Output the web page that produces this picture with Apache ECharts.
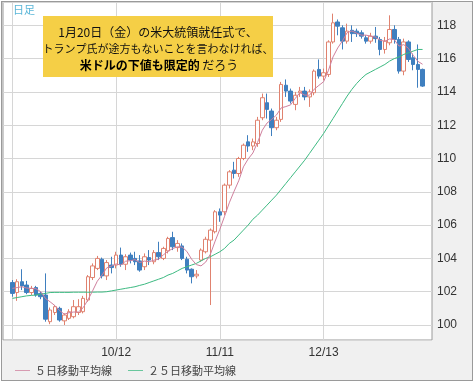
<!DOCTYPE html>
<html>
<head>
<meta charset="utf-8">
<script src="https://cdn.jsdelivr.net/npm/echarts@6/dist/echarts.min.js"></script>
<style>
html,body{margin:0;padding:0;background:#fff;}
#frame{position:absolute;left:1px;top:1px;width:472px;height:380px;box-sizing:border-box;border:1px solid #9a9a9a;background:#f0f0f0;}
#c{position:absolute;left:0;top:0;width:475px;height:383px;}
</style>
</head>
<body>
<div id="frame"></div>
<div id="c"></div>
<script>
// trading days (M/D), 2016-09-12 .. 2017-01-12
const dates = ['9/12','9/13','9/14','9/15','9/16','9/19','9/20','9/21','9/22','9/23','9/26','9/27','9/28','9/29','9/30',
'10/3','10/4','10/5','10/6','10/7','10/10','10/11',
'10/12','10/13','10/14','10/17','10/18','10/19','10/20','10/21','10/24','10/25','10/26','10/27','10/28','10/31',
'11/1','11/2','11/3','11/4','11/7','11/8','11/9','11/10',
'11/11','11/14','11/15','11/16','11/17','11/18','11/21','11/22','11/23','11/24','11/25','11/28','11/29','11/30',
'12/1','12/2','12/5','12/6','12/7','12/8','12/9','12/12',
'12/13','12/14','12/15','12/16','12/19','12/20','12/21','12/22','12/23','12/26','12/27','12/28','12/29','12/30',
'1/3','1/4','1/5','1/6','1/9','1/10','1/11','1/12'];
const labelDates = ['10/12','11/11','12/13'];
const gridDates = ['9/12','10/12','11/11','12/13'];

const openV = [102.55,101.95,102.6,102.4,101.95,102.25,101.9,101.8,100.2,100.75,
101.0,100.25,100.4,100.5,100.75,100.8,101.5,102.85,103.4,103.95,
102.95,103.6,103.6,104.2,103.65,104.2,104.0,103.85,103.5,104.05,
103.8,104.35,104.0,104.45,105.25,104.65,104.75,103.95,103.35,102.95,
103.9,104.4,105.1,105.6,106.8,106.8,108.4,109.3,109.1,110.0,
111.0,110.75,110.9,112.45,113.35,112.85,111.85,112.35,114.4,114.05,
113.25,113.95,114.05,113.7,113.95,115.35,114.95,115.05,117.0,118.2,
117.85,117.05,117.7,117.65,117.55,117.25,117.05,117.35,117.15,116.55,
116.95,117.75,117.15,115.25,117.0,116.05,115.65,115.35];
const closeV = [101.9,102.6,102.35,101.95,102.2,101.8,101.7,100.35,100.9,101.1,
100.3,100.6,100.8,101.1,101.1,101.6,102.9,103.55,104.0,102.95,
103.75,103.45,104.2,103.65,104.1,103.9,103.8,103.3,104.1,103.9,
104.35,104.1,104.6,105.2,104.7,104.9,104.0,103.3,102.9,103.05,
104.5,105.15,105.7,106.8,106.6,108.4,109.2,109.1,110.0,110.8,
110.75,111.0,112.3,113.65,112.95,111.85,112.3,114.45,114.05,113.45,
113.8,114.05,113.7,114.0,115.25,114.95,115.15,117.0,118.15,117.95,
117.05,117.65,117.5,117.5,117.35,117.05,117.35,117.2,116.55,117.05,
117.75,117.15,115.25,117.0,115.95,115.65,115.35,114.35];
const lowV = [101.7,101.45,102.1,101.85,101.8,101.7,101.55,100.2,100.05,100.6,
100.2,100.0,100.3,100.4,100.6,100.7,101.4,102.7,103.3,102.8,
102.7,103.1,103.4,103.5,103.3,103.7,103.6,103.2,103.3,103.6,
103.65,103.9,103.9,104.3,104.5,104.4,103.9,103.1,102.5,102.8,
103.8,104.3,101.2,105.5,106.2,106.6,108.2,108.8,108.9,109.9,
110.4,110.5,110.7,112.3,112.4,111.35,111.7,112.2,113.7,113.3,
112.9,113.7,113.5,113.1,113.8,114.8,114.7,114.9,116.9,117.4,
116.55,116.9,117.0,117.3,117.2,116.9,116.9,116.95,116.2,116.3,
116.8,116.9,115.1,115.0,115.8,115.3,114.25,114.3];
const highV = [102.7,102.75,103.35,102.65,102.35,102.35,102.0,103.1,101.05,101.2,
101.1,100.7,100.95,101.5,101.55,101.75,103.0,103.7,104.15,104.05,
103.9,104.1,104.4,104.65,104.25,104.35,104.4,104.2,104.3,104.5,
104.5,105.0,104.7,105.3,105.6,105.1,104.9,104.1,103.4,103.3,
104.6,105.3,105.8,106.9,107.0,108.5,109.3,109.8,110.1,110.9,
111.4,111.2,112.5,113.9,113.9,113.0,112.5,114.6,114.75,114.2,
114.0,114.3,114.3,114.15,115.35,115.95,115.4,117.1,118.7,118.35,
118.0,118.1,118.0,117.8,117.7,117.4,117.55,117.9,117.3,117.3,
118.6,118.0,117.3,117.2,117.1,116.3,116.85,115.4];
const ma5 = [102.2,102.25,102.3,102.22,102.2,102.18,102.0,101.6,101.39,101.17,
100.87,100.65,100.74,100.78,100.78,101.04,101.5,102.05,102.63,103.0,
103.43,103.54,103.67,103.6,103.83,103.86,103.93,103.75,103.84,103.8,
103.89,103.95,104.21,104.43,104.59,104.7,104.68,104.42,103.96,103.63,
103.55,103.78,104.26,105.04,105.75,106.53,107.34,108.02,108.66,109.5,
109.97,110.33,110.97,111.7,112.13,112.35,112.61,113.04,113.12,113.22,
113.61,113.96,113.81,113.8,114.16,114.39,114.61,115.27,116.1,116.64,
117.06,117.56,117.66,117.53,117.41,117.41,117.35,117.29,117.1,117.04,
117.18,117.14,116.75,116.84,116.62,116.2,115.84,115.66];
const ma25 = [101.6,101.65,101.7,101.75,101.78,101.8,101.85,101.9,101.95,101.96,
101.96,101.96,101.96,101.97,101.97,101.97,101.97,101.97,101.98,101.98,
102.0,102.05,102.1,102.15,102.2,102.25,102.3,102.38,102.45,102.55,
102.65,102.75,102.85,103.0,103.1,103.25,103.4,103.5,103.6,103.7,
103.85,104.0,104.1,104.25,104.4,104.6,104.9,105.1,105.4,105.7,
106.0,106.35,106.6,106.9,107.2,107.5,107.8,108.15,108.5,108.85,
109.2,109.55,109.9,110.3,110.7,111.1,111.5,111.95,112.4,112.85,
113.3,113.75,114.15,114.5,114.8,115.05,115.2,115.35,115.5,115.65,
115.85,116.0,116.1,116.25,116.35,116.45,116.55,116.55];

const padHead = ['_p1','_p2'];
const padTail = ['_p3','_p4'];
const cats = padHead.concat(dates, padTail);
const blankHead = padHead.map(() => '-');
const blankTail = padTail.map(() => '-');
const ohlc = dates.map((d, i) => [openV[i], closeV[i], lowV[i], highV[i]]);
const candleData = blankHead.concat(ohlc, blankTail);
const ma5Data = blankHead.concat(ma5, blankTail);
const ma25Data = blankHead.concat(ma25, blankTail);

const JP = '"Noto Sans CJK JP", sans-serif';
const LINE_ICON = 'path://M0,0H20V1H0Z';
const chart = echarts.init(document.getElementById('c'), null, {renderer: 'canvas'});
chart.setOption({
  animation: false,
  backgroundColor: 'transparent',
  grid: {left: 3, right: 43, top: 2, bottom: 43, show: true, backgroundColor: '#ffffff', borderColor: '#9a9a9a', borderWidth: 1},
  xAxis: {
    type: 'category', data: cats, boundaryGap: false,
    axisLine: {show: false}, axisTick: {show: false},
    axisLabel: {interval: (i, v) => labelDates.includes(v), color: '#333', fontSize: 12, margin: 7, fontFamily: '"Liberation Sans", Arial, sans-serif'},
    splitLine: {show: true, interval: (i, v) => gridDates.includes(v), lineStyle: {color: '#d6d6d6', width: 1}}
  },
  yAxis: {
    type: 'value', position: 'right', min: 99.1, max: 119.4, splitNumber: 10,
    axisLine: {show: false}, axisTick: {show: false},
    axisLabel: {color: '#333', fontSize: 12, margin: 5,
      fontFamily: '"Liberation Sans", Arial, sans-serif',
      formatter: v => { const r = Math.round(v); return (Math.abs(v - r) < 1e-6 && r % 2 === 0) ? String(r) : ''; }},
    splitLine: {lineStyle: {color: '#d6d6d6', width: 1}}
  },
  legend: {
    left: 15, top: 365, padding: 0, itemWidth: 15, itemHeight: 10, itemGap: 16, icon: LINE_ICON,
    textStyle: {fontSize: 11, color: '#444', fontFamily: JP},
    data: ['５日移動平均線', '２５日移動平均線']
  },
  series: [
    {type: 'candlestick', name: '日足', data: candleData, barWidth: 4,
      itemStyle: {color: '#ffffff', color0: '#3f7fbf', borderColor: '#e0826f', borderColor0: '#3f7fbf', borderWidth: 1}},
    {type: 'line', name: '２５日移動平均線', data: ma25Data, symbol: 'none', color: '#3dba82',
      lineStyle: {width: 1, color: '#3dba82'}, z: 3},
    {type: 'line', name: '５日移動平均線', data: ma5Data, symbol: 'none', color: '#cf7f9d',
      lineStyle: {width: 1, color: '#cf7f9d'}, z: 4}
  ],
  graphic: [
    {type: 'text', left: 13, top: 4, z: 50, style: {text: '日足', fill: '#5ab6d8', font: '11px ' + JP}},
    {type: 'rect', shape: {x: 43, y: 16, width: 230, height: 61}, z: 100, style: {fill: '#f5cf46'}},
    {type: 'text', x: 158, y: 32, z: 101, style: {text: '1月20日（金）の米大統領就任式で、', fill: '#111', align: 'center', verticalAlign: 'middle', font: '12px ' + JP}},
    {type: 'text', x: 158, y: 48.5, z: 101, style: {text: 'トランプ氏が途方もないことを言わなければ、', fill: '#111', align: 'center', verticalAlign: 'middle', font: '11px ' + JP}},
    {type: 'text', x: 159, y: 65, z: 101, style: {text: '{b|米ドルの下値も限定的} だろう', fill: '#111', align: 'center', verticalAlign: 'middle', font: '12px ' + JP,
      rich: {b: {fontWeight: 'bold', fontSize: 12, fontFamily: JP, fill: '#000'}}}}
  ]
});
</script>
</body>
</html>
